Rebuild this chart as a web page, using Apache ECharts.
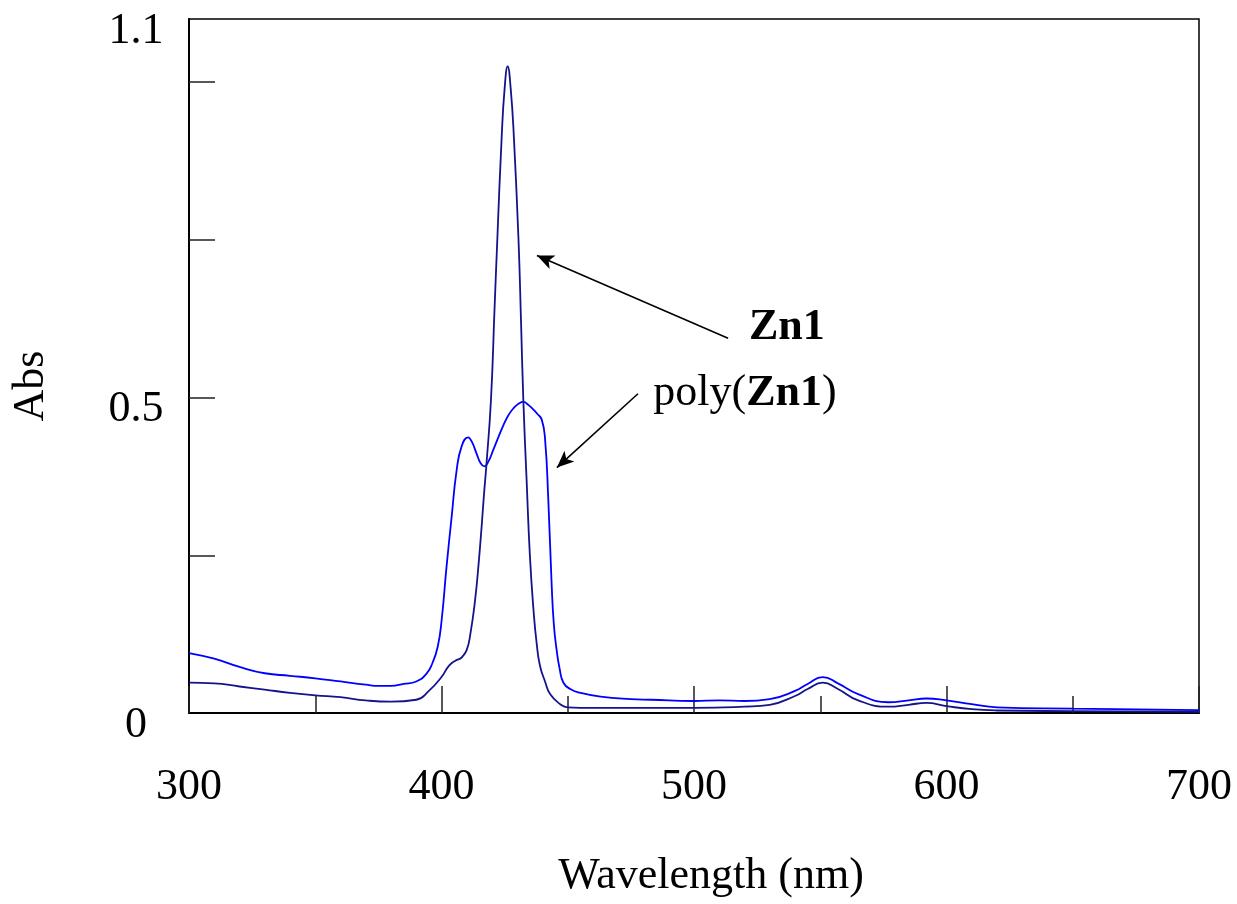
<!DOCTYPE html>
<html>
<head>
<meta charset="utf-8">
<script src="https://cdn.jsdelivr.net/npm/echarts@6/dist/echarts.min.js"></script>
<style>
html,body{margin:0;padding:0;background:#fff;}
#chart{width:1237px;height:904px;}
</style>
</head>
<body>
<div id="chart"></div>
<script>
// ---- data ----
var zn1Wl  = [300,310,320,330,340,350,360,370,380,390,395,400,403,405.5,408,410,411.5,413.3,414.6,415.9,416.8,417.8,419.6,421,422.1,423.8,425,426.2,427.4,428.7,430.5,431.5,432.4,433.7,435,436.5,437.7,439,441,443,447,450,460,480,500,520,530,540,545,551,557,565,577,585,592,600,610,620,650,700];
var zn1Abs = [0.048,0.047,0.042,0.037,0.032,0.028,0.025,0.020,0.018,0.021,0.035,0.057,0.075,0.083,0.088,0.100,0.127,0.179,0.232,0.296,0.345,0.394,0.497,0.64,0.75,0.91,0.99,1.025,0.99,0.91,0.75,0.62,0.497,0.37,0.25,0.16,0.11,0.075,0.05,0.03,0.014,0.009,0.008,0.008,0.008,0.010,0.013,0.027,0.038,0.048,0.038,0.020,0.010,0.013,0.016,0.011,0.006,0.004,0.003,0.002];

var polyWl  = [300,310,320,330,340,350,360,370,375,380,385,390,394,396.5,398.5,400,402,404,406,408,410.5,412,414,415.5,417,418.5,420.5,422.5,424.5,426.5,428.5,430.5,432.4,434.5,436.4,438,439.7,441,442.3,443.6,444.5,445.6,446.8,448.3,451,455,463,475,483,500,510,520,530,540,545,551,557,565,577,585,592,600,610,620,650,700];
var polyAbs = [0.095,0.086,0.073,0.063,0.059,0.055,0.050,0.045,0.043,0.043,0.046,0.050,0.062,0.080,0.105,0.145,0.232,0.31,0.385,0.423,0.437,0.43,0.41,0.396,0.391,0.398,0.417,0.437,0.456,0.472,0.483,0.490,0.493,0.488,0.481,0.474,0.465,0.435,0.338,0.206,0.14,0.10,0.07,0.048,0.038,0.032,0.026,0.022,0.021,0.019,0.020,0.019,0.022,0.035,0.046,0.057,0.047,0.030,0.017,0.020,0.023,0.020,0.014,0.009,0.007,0.0045];

var xTickLabels = [300,400,500,600,700];
var yTickLabels = [0,0.5,1.1];
var yTickValues = [0.25,0.5,0.75,1.0];

// annotations (data units)
var zn1Arrow  = [[513.5,0.594],[437.8,0.725]];
var polyArrow = [[477.8,0.506],[445.7,0.389]];
var zn1LabelPos  = [536.8,0.611];
var polyLabelPos = [520.2,0.506];

function pairs(xs, ys){ return xs.map(function(x,i){ return [x, ys[i]]; }); }

var FONT = '"Liberation Serif", "Times New Roman", serif';
var chart = echarts.init(document.getElementById('chart'), null, {renderer:'canvas'});
chart.setOption({
  animation:false,
  backgroundColor:'#fff',
  grid:{left:189, right:38, top:19, bottom:191, show:true, borderColor:'#000', borderWidth:1.5, backgroundColor:'transparent'},
  xAxis:{
    type:'value', min:300, max:700, interval:100,
    name:'Wavelength (nm)', nameLocation:'middle', nameGap:141,
    nameTextStyle:{fontFamily:FONT, fontSize:44, color:'#000', padding:[0,0,0,34]},
    axisLine:{show:true, onZero:false, lineStyle:{color:'#000', width:2}},
    axisTick:{show:true, inside:true, length:27, lineStyle:{color:'#222', width:1.5}},
    minorTick:{show:true, splitNumber:2, length:17, lineStyle:{color:'#222', width:1.5}},
    splitLine:{show:false},
    axisLabel:{show:true, margin:52, fontFamily:FONT, fontSize:44, color:'#000', customValues:xTickLabels}
  },
  yAxis:{
    type:'value', min:0, max:1.1,
    name:'Abs', nameLocation:'middle', nameGap:136, nameRotate:90,
    nameTextStyle:{fontFamily:FONT, fontSize:44, color:'#000', padding:[0,40,0,0]},
    axisLine:{show:true, onZero:false, lineStyle:{color:'#000', width:2}},
    axisTick:{show:true, inside:true, length:26, customValues:yTickValues, lineStyle:{color:'#222', width:1.5}},
    splitLine:{show:false},
    axisLabel:{show:true, margin:53, align:'center', fontFamily:FONT, fontSize:44, color:'#000',
      customValues:yTickLabels,
      formatter:function(v){ return '{s|' + String(v) + '}'; },
      rich:{s:{fontFamily:FONT, fontSize:44, color:'#000', padding:[24,0,0,0]}}}
  },
  series:[
    {
      name:'Zn1', type:'line', data:pairs(zn1Wl, zn1Abs), showSymbol:false, symbol:'none',
      smooth:0.5, lineStyle:{color:'#14148a', width:1.8}, itemStyle:{color:'#14148a'},
      silent:true, z:3,
      markLine:{silent:true, symbol:['none','arrow'], symbolSize:[11,17], label:{show:false},
        lineStyle:{color:'#000', width:1.6, type:'solid'},
        data:[[{coord:zn1Arrow[0]},{coord:zn1Arrow[1]}],[{coord:polyArrow[0]},{coord:polyArrow[1]}]]},
      markPoint:{silent:true, symbol:'circle', symbolSize:1, itemStyle:{color:'rgba(0,0,0,0)'},
        label:{show:true, position:'inside', color:'#000', fontFamily:FONT, fontSize:44,
          rich:{b:{fontFamily:FONT, fontSize:44, fontWeight:'bold', color:'#000'}}},
        data:[
          {coord:zn1LabelPos, label:{formatter:'{b|Zn1}'}},
          {coord:polyLabelPos, label:{formatter:'poly({b|Zn1})'}}
        ]}
    },
    {
      name:'poly(Zn1)', type:'line', data:pairs(polyWl, polyAbs), showSymbol:false, symbol:'none',
      smooth:0.5, lineStyle:{color:'#0000ff', width:1.8}, itemStyle:{color:'#0000ff'},
      silent:true, z:2
    }
  ]
});
</script>
</body>
</html>
